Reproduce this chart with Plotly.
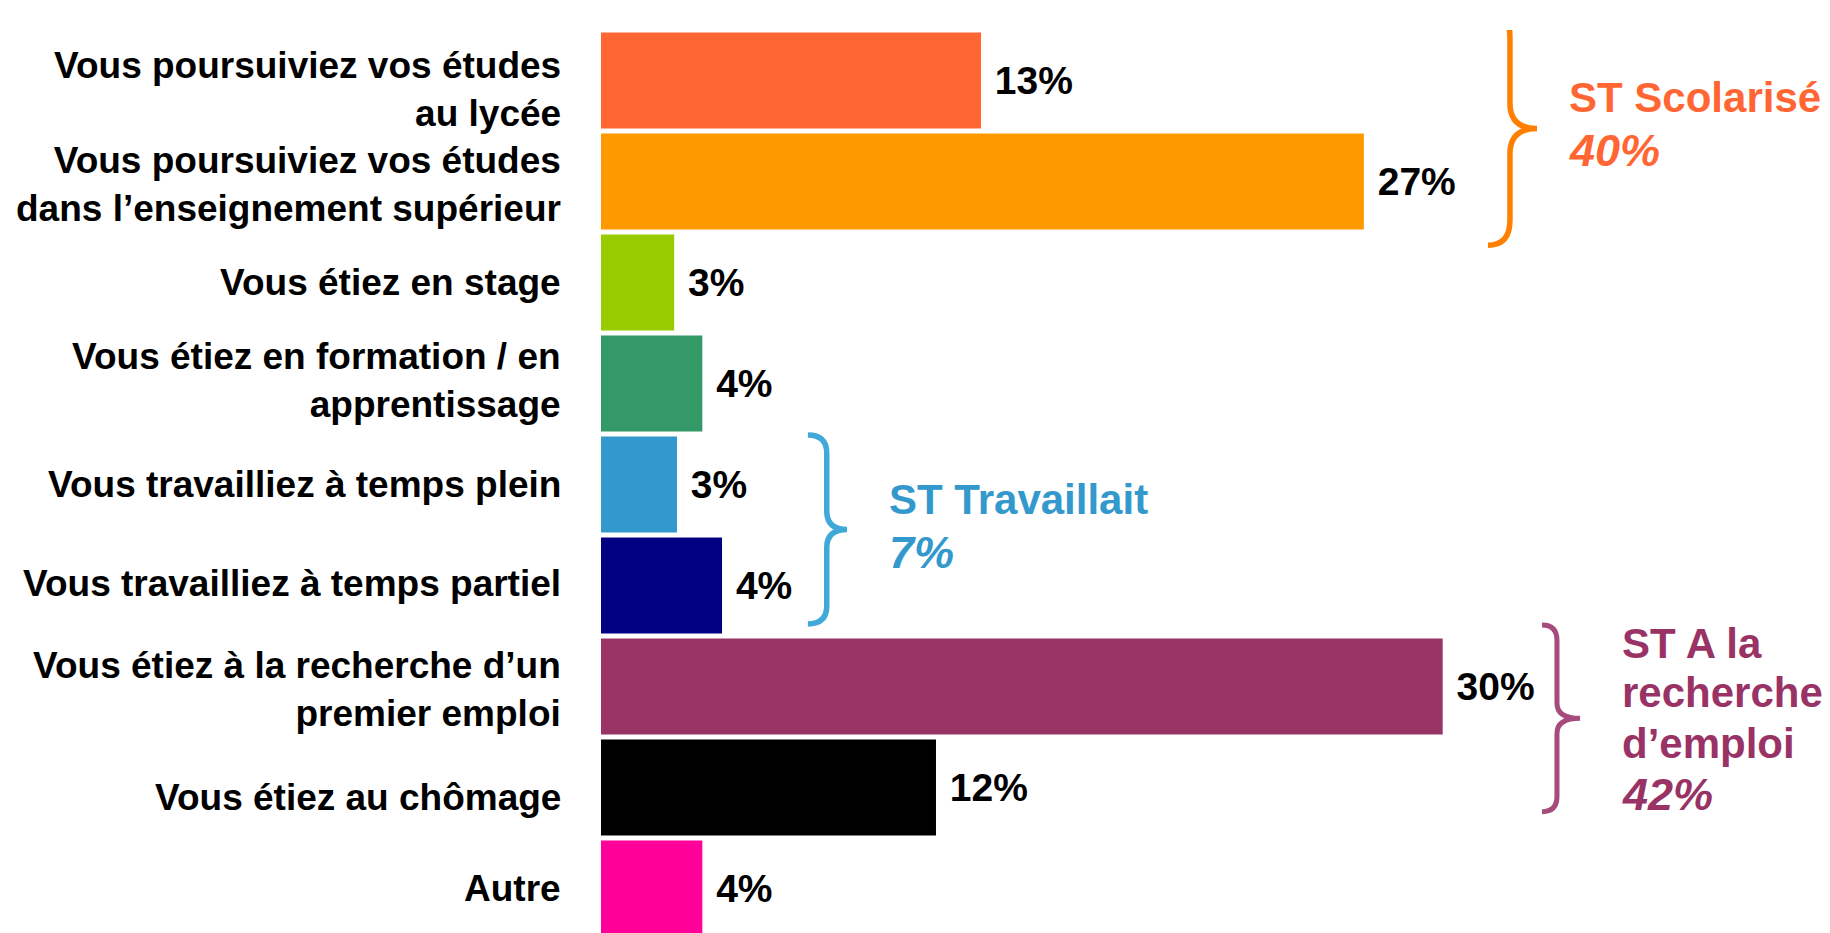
import plotly.graph_objects as go

# ---------------- data ----------------
categories = [
    "Vous poursuiviez vos études<br>au lycée",
    "Vous poursuiviez vos études<br>dans l’enseignement supérieur",
    "Vous étiez en stage",
    "Vous étiez en formation / en<br>apprentissage",
    "Vous travailliez à temps plein",
    "Vous travailliez à temps partiel",
    "Vous étiez à la recherche d’un<br>premier emploi",
    "Vous étiez au chômage",
    "Autre",
]
values = [13.5, 27.1, 2.6, 3.6, 2.7, 4.3, 29.9, 11.9, 3.6]
value_labels = ["13%", "27%", "3%", "4%", "3%", "4%", "30%", "12%", "4%"]
bar_colors = ["#FF6633", "#FF9900", "#99CC00", "#339966", "#3399CC",
              "#000080", "#993366", "#000000", "#FF0099"]

group_names = [["ST Scolarisé"], ["ST Travaillait"], ["ST A la", "recherche", "d’emploi"]]
group_totals = ["40%", "7%", "42%"]
group_text_colors = ["#FF6633", "#3399CC", "#993366"]
group_brace_colors = ["#FF8000", "#41A9D9", "#A54C7C"]

# ---------------- layout / style ----------------
FONT = "Liberation Sans, Arial, sans-serif"
W, H = 1830, 933
ML, MT = 601, 30
PX_PER_UNIT = 28.15
xmax = (W - ML) / PX_PER_UNIT
ROW_PX = 101
ymax_idx = -0.5 + (H - MT) / ROW_PX

# small vertical nudges of the category labels (pixels, + = up)
label_yshift = [-9, -3, 0, 3, 0, 2, -3, -10, 0]

# brace geometry (x: end, stem, tip in axis units ; y: top, bottom in category index ; r curl)
braces = [
    dict(x0=31.51, x1=32.29, x2=33.25, yt=-0.68, yb=1.63, r=0.25, w=5.5),
    dict(x0=7.35, x1=8.02, x2=8.74, yt=3.51, yb=5.38, r=0.18, w=5.5),
    dict(x0=33.43, x1=33.96, x2=34.78, yt=5.39, yb=7.24, r=0.15, w=5),
]
# group label positions (x left in axis units, y centres in category index)
name_pos = [
    dict(x=34.30, ys=[0.168]),
    dict(x=10.15, ys=[4.144]),
    dict(x=36.20, ys=[5.574, 6.064, 6.56]),
]
total_y = [0.693, 4.673, 7.07]

fig = go.Figure()
fig.add_trace(go.Bar(
    y=categories,
    x=values,
    orientation="h",
    marker=dict(color=bar_colors, line=dict(width=0)),
    text=value_labels,
    texttemplate="\u00a0%{text}",
    textposition="outside",
    textfont=dict(family=FONT, size=39, color="black", weight="bold"),
    constraintext="none",
    cliponaxis=False,
    hoverinfo="skip",
))

shapes = []
for b, col in zip(braces, group_brace_colors):
    ym = (b["yt"] + b["yb"]) / 2
    r = b["r"]
    path = (f"M {b['x0']},{b['yt']} Q {b['x1']},{b['yt']} {b['x1']},{b['yt'] + r} "
            f"L {b['x1']},{ym - r} Q {b['x1']},{ym} {b['x2']},{ym} "
            f"Q {b['x1']},{ym} {b['x1']},{ym + r} "
            f"L {b['x1']},{b['yb'] - r} Q {b['x1']},{b['yb']} {b['x0']},{b['yb']}")
    shapes.append(dict(type="path", path=path, xref="x", yref="y",
                       line=dict(color=col, width=b["w"]), layer="above"))

annotations = []
# category labels
for cat, ys in zip(categories, label_yshift):
    annotations.append(dict(
        x=0, y=cat, xref="x", yref="y", text=cat, showarrow=False,
        xanchor="right", yanchor="middle", align="right",
        xshift=-38, yshift=ys,
        font=dict(family=FONT, size=37, color="black", weight="bold")))
# group labels
for names, pos, tot, ty, col in zip(group_names, name_pos, group_totals, total_y, group_text_colors):
    for line, yy in zip(names, pos["ys"]):
        annotations.append(dict(
            x=pos["x"], y=yy, xref="x", yref="y", text=line, showarrow=False,
            xanchor="left", yanchor="middle", align="left",
            font=dict(family=FONT, size=42, color=col, weight="bold")))
    annotations.append(dict(
        x=pos["x"], y=ty, xref="x", yref="y", text=tot, showarrow=False,
        xanchor="left", yanchor="middle", align="left",
        font=dict(family=FONT, size=45, color=col, weight="bold", style="italic")))

fig.update_layout(
    width=W, height=H,
    margin=dict(l=ML, r=0, t=MT, b=0, pad=0),
    paper_bgcolor="white", plot_bgcolor="white",
    showlegend=False,
    bargap=0.05,
    shapes=shapes,
    annotations=annotations,
    xaxis=dict(range=[0, xmax], visible=False, showgrid=False, zeroline=False),
    yaxis=dict(
        type="category",
        range=[ymax_idx, -0.5],
        showgrid=False, zeroline=False, showline=False,
        ticks="", showticklabels=False,
    ),
)

fig.write_html("out.html", config={"displayModeBar": False},
               post_script="document.body.style.margin='0';document.body.style.overflow='hidden';")
